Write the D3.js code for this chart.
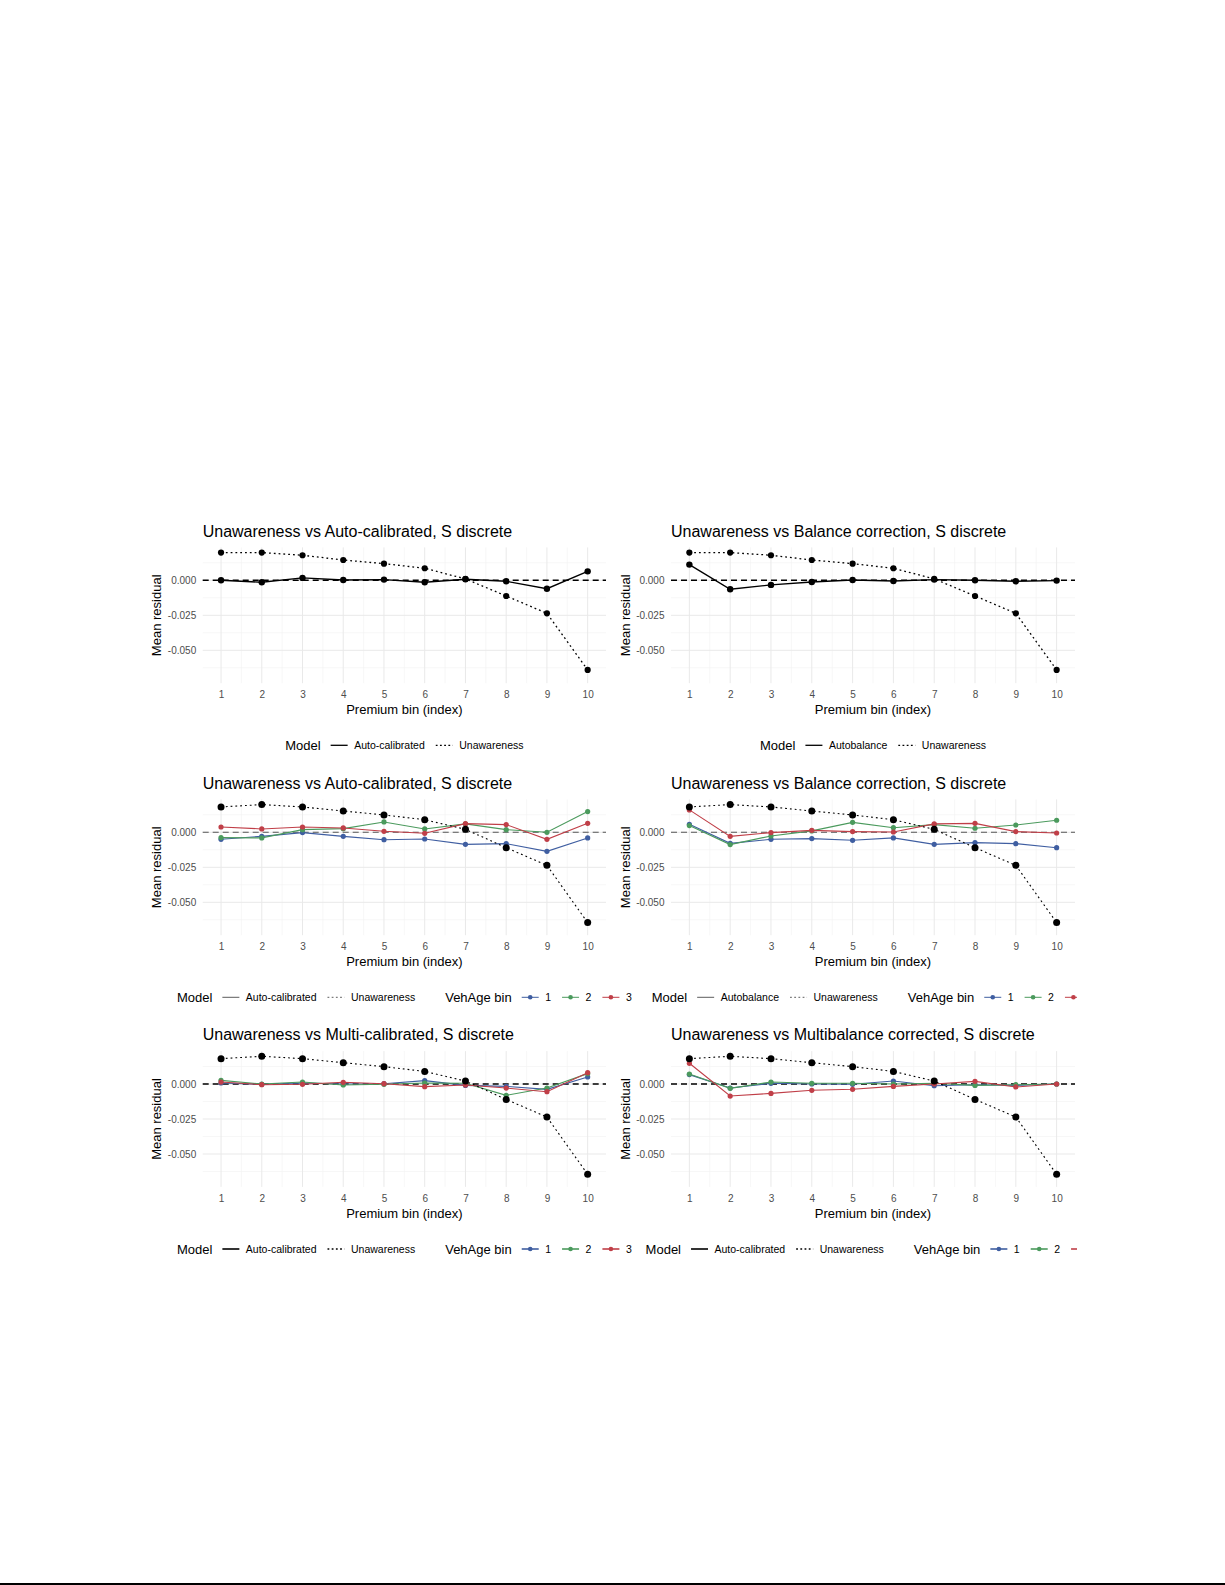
<!DOCTYPE html>
<html>
<head>
<meta charset="utf-8">
<script src="https://cdn.jsdelivr.net/npm/d3@7"></script>
<style>
  body { margin: 0; background: #fff; }
  svg { display: block; }
  text { font-family: "Liberation Sans", Arial, sans-serif; }
</style>
</head>
<body>
<div id="chart"></div>
<script>

// ---- data ----
var bins = [1, 2, 3, 4, 5, 6, 7, 8, 9, 10];
var yTicks = [0, -0.025, -0.05];
var yMinor = [0.0125, -0.0125, -0.0375, -0.0625];

var titles = [
  "Unawareness vs Auto-calibrated, S discrete",
  "Unawareness vs Balance correction, S discrete",
  "Unawareness vs Auto-calibrated, S discrete",
  "Unawareness vs Balance correction, S discrete",
  "Unawareness vs Multi-calibrated, S discrete",
  "Unawareness vs Multibalance corrected, S discrete"
];
var modelLabels = ["Auto-calibrated", "Autobalance", "Auto-calibrated", "Autobalance", "Auto-calibrated", "Auto-calibrated"];
var vehBins = ["1", "2", "3"];

var unawarenessTop = [0.0198, 0.0198, 0.0179, 0.0145, 0.0119, 0.0086, 0.0010, -0.0112, -0.0236, -0.0640];
var unawarenessBottom = [0.0181, 0.0198, 0.0181, 0.0152, 0.0124, 0.0090, 0.0021, -0.0110, -0.0236, -0.0645];

var autoCalibrated = [0.0000, -0.0014, 0.0017, 0.0002, 0.0005, -0.0014, 0.0007, -0.0007, -0.0060, 0.0064];
var autobalance = [0.0112, -0.0064, -0.0033, -0.0012, 0.0002, -0.0005, 0.0005, 0.0000, -0.0007, -0.0002];

var acVeh1 = [-0.0050, -0.0029, -0.0002, -0.0029, -0.0053, -0.0048, -0.0086, -0.0081, -0.0136, -0.0040];
var acVeh2 = [-0.0038, -0.0040, 0.0019, 0.0026, 0.0074, 0.0024, 0.0060, 0.0019, 0.0000, 0.0148];
var acVeh3 = [0.0038, 0.0024, 0.0038, 0.0031, 0.0007, -0.0007, 0.0062, 0.0055, -0.0050, 0.0064];

var abVeh1 = [0.0057, -0.0079, -0.0050, -0.0045, -0.0057, -0.0040, -0.0086, -0.0074, -0.0081, -0.0110];
var abVeh2 = [0.0048, -0.0088, -0.0026, 0.0010, 0.0071, 0.0033, 0.0055, 0.0029, 0.0052, 0.0086];
var abVeh3 = [0.0160, -0.0029, -0.0002, 0.0014, 0.0005, 0.0002, 0.0060, 0.0064, 0.0005, -0.0005];

var mcVeh1 = [0.0007, -0.0002, 0.0007, 0.0000, 0.0002, 0.0024, -0.0010, -0.0017, -0.0038, 0.0050];
var mcVeh2 = [0.0026, 0.0000, 0.0014, -0.0007, -0.0002, 0.0007, 0.0005, -0.0081, -0.0029, 0.0074];
var mcVeh3 = [0.0014, -0.0005, -0.0002, 0.0012, 0.0002, -0.0019, -0.0007, -0.0029, -0.0055, 0.0081];

var mbVeh1 = [0.0067, -0.0029, 0.0005, 0.0000, -0.0002, 0.0021, -0.0012, -0.0005, -0.0010, 0.0000];
var mbVeh2 = [0.0071, -0.0031, 0.0014, 0.0005, 0.0005, 0.0000, 0.0005, -0.0010, -0.0005, 0.0000];
var mbVeh3 = [0.0148, -0.0086, -0.0067, -0.0045, -0.0038, -0.0017, 0.0000, 0.0019, -0.0021, 0.0000];

var vehColors = ["#3f5ea1", "#4b9a5d", "#c03f48"];

// ---- layout ----
var W = 1225, H = 1585;
var cols = [{ left: 202.7, right: 606 }, { left: 671, right: 1075 }];
var rowZero = [580.3, 832.3, 1084];
var pxPerUnit = 1400;
var yTopVal = 0.0235, yBotVal = -0.0735;

var panels = [
  { row: 0, col: 0, main: autoCalibrated, unaware: unawarenessTop, groups: null },
  { row: 0, col: 1, main: autobalance, unaware: unawarenessTop, groups: null },
  { row: 1, col: 0, main: null, unaware: unawarenessBottom, groups: [acVeh1, acVeh2, acVeh3] },
  { row: 1, col: 1, main: null, unaware: unawarenessBottom, groups: [abVeh1, abVeh2, abVeh3] },
  { row: 2, col: 0, main: null, unaware: unawarenessBottom, groups: [mcVeh1, mcVeh2, mcVeh3] },
  { row: 2, col: 1, main: null, unaware: unawarenessBottom, groups: [mbVeh1, mbVeh2, mbVeh3] }
];

var svg = d3.select("#chart").append("svg")
  .attr("width", W)
  .attr("height", H);

svg.append("defs").append("clipPath").attr("id", "rightClip")
  .append("rect").attr("x", 620).attr("y", 0).attr("width", 1077 - 620).attr("height", H);

svg.append("rect").attr("width", W).attr("height", H).attr("fill", "#fff");

var zeroStyle = [
  { color: "#000", width: 1.4 },
  { color: "#555", width: 1.1 },
  { color: "#000", width: 1.4 }
];

panels.forEach(function(p, i) {
  var col = cols[p.col];
  var zero = rowZero[p.row];

  var x = d3.scaleLinear().domain([0.55, 10.45]).range([col.left, col.right]);
  var y = d3.scaleLinear().domain([yBotVal, yTopVal])
    .range([zero - yBotVal * pxPerUnit, zero - yTopVal * pxPerUnit]);

  var g = svg.append("g");
  var top = y.range()[1], bottom = y.range()[0];

  // grid
  var minorX = bins.slice(0, -1).map(function(b) { return b + 0.5; });
  g.selectAll(".gxm").data(minorX).enter().append("line")
    .attr("x1", function(d) { return x(d); }).attr("x2", function(d) { return x(d); })
    .attr("y1", top).attr("y2", bottom)
    .attr("stroke", "#f3f3f3").attr("stroke-width", 0.7);
  g.selectAll(".gym").data(yMinor).enter().append("line")
    .attr("x1", col.left).attr("x2", col.right)
    .attr("y1", function(d) { return y(d); }).attr("y2", function(d) { return y(d); })
    .attr("stroke", "#f3f3f3").attr("stroke-width", 0.7);
  g.selectAll(".gx").data(bins).enter().append("line")
    .attr("x1", function(d) { return x(d); }).attr("x2", function(d) { return x(d); })
    .attr("y1", top).attr("y2", bottom)
    .attr("stroke", "#e9e9e9").attr("stroke-width", 1);
  g.selectAll(".gy").data(yTicks).enter().append("line")
    .attr("x1", col.left).attr("x2", col.right)
    .attr("y1", function(d) { return y(d); }).attr("y2", function(d) { return y(d); })
    .attr("stroke", "#e9e9e9").attr("stroke-width", 1);

  // axes
  var xAxis = g.append("g").attr("transform", "translate(0," + bottom + ")")
    .call(d3.axisBottom(x).tickValues(bins).tickSize(0).tickPadding(8));
  var yAxis = g.append("g").attr("transform", "translate(" + col.left + ",0)")
    .call(d3.axisLeft(y).tickValues(yTicks).tickSize(0).tickPadding(6.5)
      .tickFormat(function(d) { return d.toFixed(3); }));
  [xAxis, yAxis].forEach(function(a) {
    a.select(".domain").remove();
    a.selectAll("text").attr("fill", "#4d4d4d").style("font-size", "10px")
      .style("font-family", "'Liberation Sans', Arial, sans-serif");
  });

  // titles
  g.append("text").attr("x", col.left).attr("y", zero - 43.6)
    .attr("font-size", 16).attr("fill", "#000").text(titles[i]);
  g.append("text").attr("x", (col.left + col.right) / 2).attr("y", zero + 133.5)
    .attr("text-anchor", "middle").attr("font-size", 13).text("Premium bin (index)");
  g.append("text")
    .attr("transform", "translate(" + (col.left - 41.5) + "," + ((top + bottom) / 2) + ") rotate(-90)")
    .attr("text-anchor", "middle").attr("font-size", 13).text("Mean residual");

  // zero reference
  var zs = zeroStyle[p.row];
  g.append("line").attr("x1", col.left).attr("x2", col.right)
    .attr("y1", y(0)).attr("y2", y(0))
    .attr("stroke", zs.color).attr("stroke-width", zs.width)
    .attr("stroke-dasharray", "6,4");

  var line = d3.line()
    .x(function(d, j) { return x(bins[j]); })
    .y(function(d) { return y(d); });

  if (p.groups) {
    p.groups.forEach(function(vals, k) {
      g.append("path").datum(vals).attr("d", line)
        .attr("fill", "none").attr("stroke", vehColors[k]).attr("stroke-width", 1.1);
      g.selectAll(".pt" + k).data(vals).enter().append("circle")
        .attr("cx", function(d, j) { return x(bins[j]); })
        .attr("cy", function(d) { return y(d); })
        .attr("r", 2.6).attr("fill", vehColors[k]);
    });
  }
  if (p.main) {
    g.append("path").datum(p.main).attr("d", line)
      .attr("fill", "none").attr("stroke", "#000").attr("stroke-width", 1.4);
    g.selectAll(".pm").data(p.main).enter().append("circle")
      .attr("cx", function(d, j) { return x(bins[j]); })
      .attr("cy", function(d) { return y(d); })
      .attr("r", 3.2).attr("fill", "#000");
  }
  g.append("path").datum(p.unaware).attr("d", line)
    .attr("fill", "none").attr("stroke", "#000")
    .attr("stroke-width", p.row === 0 ? 1.3 : 1.1)
    .attr("stroke-dasharray", "1.8,3");
  g.selectAll(".pu").data(p.unaware).enter().append("circle")
    .attr("cx", function(d, j) { return x(bins[j]); })
    .attr("cy", function(d) { return y(d); })
    .attr("r", p.row === 0 ? 3.1 : 3.5).attr("fill", "#000");

  // legend
  var items = [
    { t: "title", text: "Model" },
    { t: "key", kind: "solid" }, { t: "label", text: modelLabels[i] },
    { t: "key", kind: "dotted" }, { t: "label", text: "Unawareness" }
  ];
  if (p.groups) {
    items.push({ t: "gap" });
    items.push({ t: "title", text: "VehAge bin" });
    vehBins.forEach(function(v, k) {
      items.push({ t: "key", kind: "color", color: vehColors[k] });
      items.push({ t: "label", text: v });
    });
  }
  var lg = g.append("g");
  if (p.col === 1) lg.attr("clip-path", "url(#rightClip)");
  var ly = zero + 165;
  var placed = [];
  var cursor = 0, prev = null;
  items.forEach(function(it) {
    if (it.t === "gap") { cursor += 20; return; }
    if (prev === "title" && it.t === "key") cursor += 10;
    else if (prev === "key" && it.t === "label") cursor += 6.5;
    else if (prev === "label" && it.t === "key") cursor += 11;
    else if (prev === "label" && it.t === "title") cursor += 10;
    var el;
    if (it.t === "title" || it.t === "label") {
      el = lg.append("text").attr("y", ly).attr("dy", "0.35em")
        .attr("font-size", it.t === "title" ? 13 : 10.5)
        .attr("fill", "#000").text(it.text);
      var w = el.node().getComputedTextLength();
      placed.push({ el: el, x: cursor, type: "text" });
      cursor += w;
    } else {
      var kg = lg.append("g");
      var kw = 17;
      var lw = p.row === 0 ? 1.3 : (p.row === 1 ? 0.8 : 1.6);
      var kc = p.row === 1 ? "#333" : "#000";
      if (it.kind === "solid") {
        kg.append("line").attr("x1", 0).attr("x2", kw).attr("y1", ly).attr("y2", ly)
          .attr("stroke", kc).attr("stroke-width", lw);
      } else if (it.kind === "dotted") {
        kg.append("line").attr("x1", 0).attr("x2", kw).attr("y1", ly).attr("y2", ly)
          .attr("stroke", kc).attr("stroke-width", lw).attr("stroke-dasharray", "1.8,2.4");
      } else {
        kg.append("line").attr("x1", 0).attr("x2", kw).attr("y1", ly).attr("y2", ly)
          .attr("stroke", it.color).attr("stroke-width", p.row === 2 ? 1.6 : 1);
        kg.append("circle").attr("cx", kw / 2).attr("cy", ly).attr("r", 2.3).attr("fill", it.color);
      }
      placed.push({ el: kg, x: cursor, type: "key" });
      cursor += kw;
    }
    prev = it.t;
  });
  var start = (col.left + col.right) / 2 - cursor / 2;
  placed.forEach(function(pl) {
    if (pl.type === "text") pl.el.attr("x", start + pl.x);
    else pl.el.attr("transform", "translate(" + (start + pl.x) + ",0)");
  });
});

// page rule at the bottom
svg.append("rect").attr("x", 0).attr("y", 1583).attr("width", W).attr("height", 2).attr("fill", "#000");

</script>
</body>
</html>
